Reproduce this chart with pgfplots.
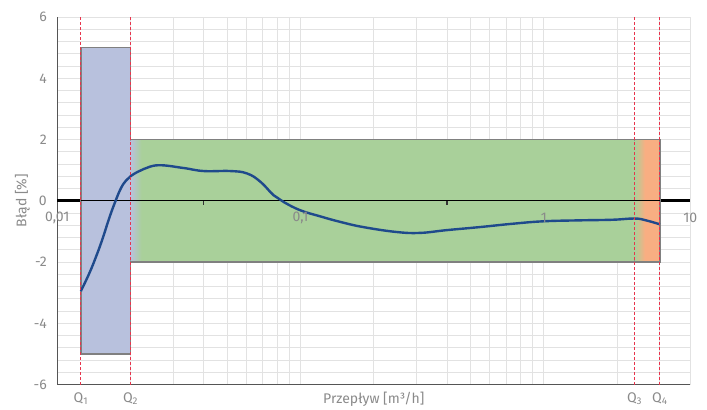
\documentclass[border=0pt]{standalone}
\usepackage{fontspec}
\setmainfont{Fira Sans}
\usepackage{pgfplots}
\pgfplotsset{compat=1.18}
\definecolor{txtgray}{HTML}{8A8A8A}
\definecolor{gridgray}{HTML}{E2E2E2}
\definecolor{axgray}{HTML}{555555}
\definecolor{bluerect}{HTML}{B8C1DD}
\definecolor{greenrect}{HTML}{A9D09A}
\definecolor{orangerect}{HTML}{F8AE82}
\definecolor{rectborder}{HTML}{808080}
\definecolor{curveblue}{HTML}{1F4A8C}
\definecolor{qred}{HTML}{E8344C}
\begin{document}
\begin{tikzpicture}[font=\fontsize{14bp}{17bp}\selectfont]
\begin{axis}[
  scale only axis,
  width=633bp, height=367.5bp,
  xmode=log,
  xmin=0.01, xmax=4,
  ymin=-6, ymax=6,
  ytick={-6,-4,-2,0,2,4,6},
  yticklabels={-6,-4,-2,0,2,4,6},
  minor y tick num=4,
  xticklabels={},
  grid=both,
  major grid style={gridgray, line width=0.9bp},
  minor grid style={gridgray, line width=0.9bp},
  major tick length=0pt, minor tick length=0pt,
  axis x line*=bottom, axis y line*=left,
  axis line style={axgray, line width=1bp, -},
  yticklabel style={txtgray, anchor=east, xshift=-7bp},
  ylabel={Błąd [\%]},
  ylabel style={txtgray, at={(axis description cs:-0.055,0.5)}, anchor=center, rotate=0},
  xlabel={Przepływ [m³/h]},
  xlabel style={txtgray, at={(axis description cs:0.5,0)}, anchor=center, yshift=-15bp},
  clip=false,
]
% thick zero line (below zones)
\addplot[black, line width=3.2bp] coordinates {(0.01,0) (4,0)};
% zones
\addplot[fill=bluerect, draw=rectborder, line width=1.3bp] coordinates {(0.0125,-5) (0.02,-5) (0.02,5) (0.0125,5)} -- cycle;
\addplot[fill=greenrect, draw=rectborder, line width=1.3bp] coordinates {(0.02,-2) (2.36,-2) (2.36,2) (0.02,2)} -- cycle;
\addplot[fill=orangerect, draw=rectborder, line width=1.3bp] coordinates {(2.36,-2) (3.0,-2) (3.0,2) (2.36,2)} -- cycle;
% gradient transitions
\addplot[draw=none, left color=bluerect, right color=greenrect] coordinates {(0.02,-1.96) (0.0222,-1.96) (0.0222,1.96) (0.02,1.96)} -- cycle;
\addplot[draw=none, left color=greenrect, right color=orangerect] coordinates {(2.36,-1.96) (2.6,-1.96) (2.6,1.96) (2.36,1.96)} -- cycle;
% thin zero line over zones
\addplot[black, line width=1bp] coordinates {(0.0125,0) (3.0,0)};
\addplot[black!80, line width=1.3bp] coordinates {(0.04,0) (0.04,-0.15)};
\addplot[black!80, line width=1.3bp] coordinates {(0.4,0) (0.4,-0.15)};
% error curve
\addplot[curveblue, line width=2.4bp, smooth, tension=0.7] coordinates {
(0.0125,-2.95) (0.01352,-2.38) (0.01441,-1.84) (0.01535,-1.24) (0.01633,-0.58)
(0.01729,-0.04) (0.01824,0.40) (0.01912,0.65) (0.0200,0.80) (0.02136,0.94)
(0.02273,1.04) (0.0261,1.16) (0.033,1.07) (0.0400,0.97) (0.0515,0.97)
(0.0603,0.89) (0.0684,0.62) (0.0775,0.18) (0.0852,-0.04) (0.0997,-0.31)
(0.1205,-0.51) (0.1456,-0.69) (0.1812,-0.86) (0.248,-1.02) (0.3094,-1.05)
(0.398,-0.96) (0.545,-0.86) (0.746,-0.75) (1.0,-0.67) (1.40,-0.64)
(1.92,-0.62) (2.36,-0.58) (2.63,-0.64) (3.0,-0.77)
};
% Q lines
\addplot[qred, line width=1bp, dash pattern=on 3bp off 2bp] coordinates {(0.0125,-6) (0.0125,6)};
\addplot[qred, line width=1bp, dash pattern=on 3bp off 2bp] coordinates {(0.02,-6) (0.02,6)};
\addplot[qred, line width=1bp, dash pattern=on 3bp off 2bp] coordinates {(2.36,-6) (2.36,6)};
\addplot[qred, line width=1bp, dash pattern=on 3bp off 2bp] coordinates {(3.0,-6) (3.0,6)};
% x tick labels on zero line
\node[txtgray, anchor=center, yshift=-17.5bp] at (axis cs:0.01,0) {0,01};
\node[txtgray, anchor=center, yshift=-17.5bp] at (axis cs:0.1,0) {0,1};
\node[txtgray, anchor=center, yshift=-17.5bp] at (axis cs:1,0) {1};
\node[txtgray, anchor=center, yshift=-17.5bp] at (axis cs:4,0) {10};
% Q labels
\node[txtgray, anchor=center, yshift=-14bp] at (axis cs:0.0125,-6) {Q\textsubscript{1}};
\node[txtgray, anchor=center, yshift=-14bp] at (axis cs:0.02,-6) {Q\textsubscript{2}};
\node[txtgray, anchor=center, yshift=-14bp] at (axis cs:2.36,-6) {Q\textsubscript{3}};
\node[txtgray, anchor=center, yshift=-14bp] at (axis cs:3.0,-6) {Q\textsubscript{4}};
\end{axis}
\pgfresetboundingbox
\path[use as bounding box] ([shift={(-57.3bp,-24.5bp)}]current axis.south west) rectangle ([shift={(16.7bp,17bp)}]current axis.north east);
\end{tikzpicture}
\end{document}
